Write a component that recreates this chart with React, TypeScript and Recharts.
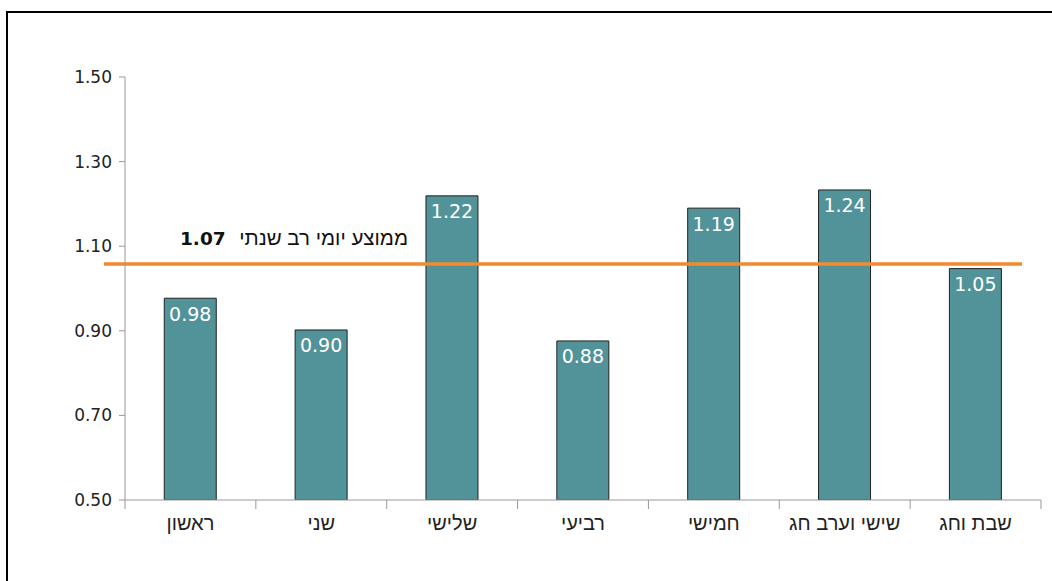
import React from "react";
import { BarChart, Bar, XAxis, YAxis, ReferenceLine, LabelList } from "recharts";

const categories = ["ראשון", "שני", "שלישי", "רביעי", "חמישי", "שישי וערב חג", "שבת וחג"];
const values = [0.977, 0.902, 1.219, 0.876, 1.19, 1.233, 1.047];
const valueLabels = ["0.98", "0.90", "1.22", "0.88", "1.19", "1.24", "1.05"];
const yTicks = [0.5, 0.7, 0.9, 1.1, 1.3, 1.5];
const averageLinePosition = 1.058;
const averageLabelText = "ממוצע יומי רב שנתי";
const averageLabelValue = "1.07";

const data = categories.map((c, i) => ({ name: c, value: values[i], label: valueLabels[i] }));

const FONT = "'DejaVu Sans', 'Liberation Sans', Arial, sans-serif";
const HEB_FONT = "'Liberation Sans', Arial, 'DejaVu Sans', sans-serif";

const XTick = (props: any) => {
  const { x, y, payload, width, index, visibleTicksCount } = props;
  const count = visibleTicksCount || categories.length;
  const half = width / count / 2;
  const axisY = y - 8;
  return (
    <g>
      <line x1={x - half} y1={axisY} x2={x - half} y2={axisY + 9} stroke="#999" strokeWidth={1} />
      {index === count - 1 && (
        <line x1={x + half} y1={axisY} x2={x + half} y2={axisY + 9} stroke="#999" strokeWidth={1} />
      )}
      <text x={x} y={axisY + 30} textAnchor="middle" fontSize={20} fill="#222" fontFamily={HEB_FONT}>
        {payload.value}
      </text>
    </g>
  );
};

const AvgLine = (props: any) => {
  const { x1, x2, y1 } = props;
  return (
    <g>
      <line x1={x1 - 21} x2={x2 - 19} y1={y1} y2={y1} stroke="#F28A2E" strokeWidth={3.5} />
      <text x={x1 + 55} y={y1 - 19} textAnchor="start" fontSize={18.5} fontWeight="bold" fill="#111" fontFamily={FONT}>
        {averageLabelValue}
      </text>
      <text x={x1 + 283} y={y1 - 19} textAnchor="end" fontSize={20.5} fill="#111" fontFamily={HEB_FONT}>
        {averageLabelText}
      </text>
    </g>
  );
};

export default function App() {
  return (
    <div style={{ position: "absolute", left: 0, top: 0, width: 1052, height: 581, overflow: "hidden", background: "#fff" }}>
      <div
        style={{
          position: "absolute",
          left: 6,
          top: 11,
          width: 1100,
          height: 620,
          border: "2px solid #000",
        }}
      />
      <div style={{ position: "absolute", left: 0, top: 0 }}>
        <BarChart
          width={1052}
          height={581}
          data={data}
          margin={{ top: 77, right: 11, left: 65, bottom: 51 }}
          barCategoryGap="30%"
        >
          <XAxis
            dataKey="name"
            axisLine={{ stroke: "#999" }}
            tickLine={false}
            height={30}
            interval={0}
            tick={<XTick />}
          />
          <YAxis
            width={60}
            domain={[0.5, 1.5]}
            ticks={yTicks}
            allowDataOverflow
            axisLine={{ stroke: "#999" }}
            tickLine={{ stroke: "#999" }}
            tickSize={6}
            tickMargin={7}
            tickFormatter={(v: number) => v.toFixed(2)}
            tick={{ fontSize: 17, fill: "#222", fontFamily: FONT }}
          />
          <Bar dataKey="value" fill="#52939A" stroke="#222" strokeWidth={1} isAnimationActive={false}>
            <LabelList
              dataKey="label"
              position="insideTop"
              offset={9}
              fill="#fff"
              fontSize={19}
              fontFamily={FONT}
            />
          </Bar>
          <ReferenceLine y={averageLinePosition} shape={<AvgLine />} />
        </BarChart>
      </div>
    </div>
  );
}
